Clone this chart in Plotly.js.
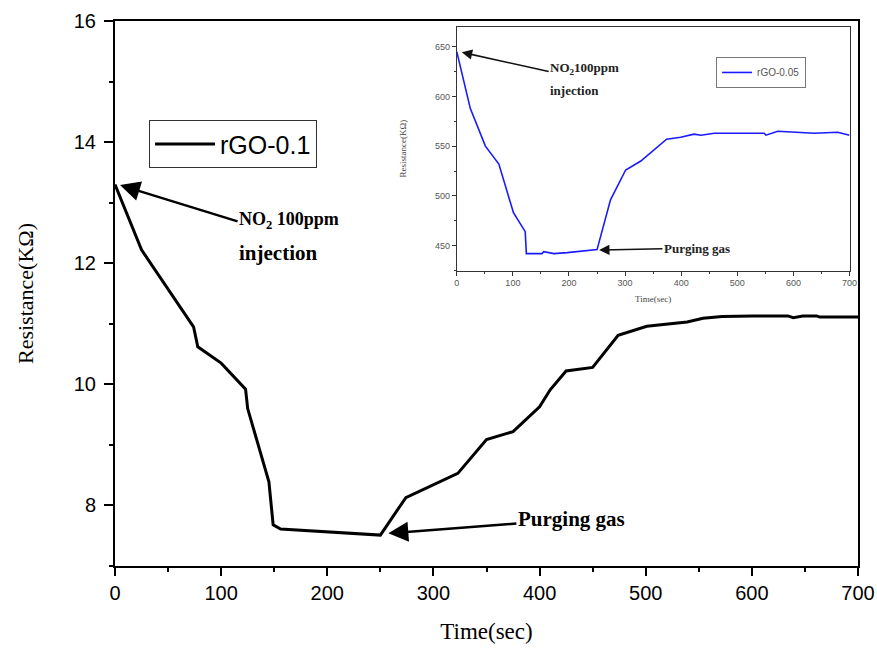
<!DOCTYPE html>
<html>
<head>
<meta charset="utf-8">
<script src="https://cdn.plot.ly/plotly-3.0.1.min.js"></script>
<style>html,body{margin:0;padding:0;background:#fff;}#chart{width:877px;height:649px;}</style>
</head>
<body>
<div id="chart"></div>
<script>
// Main series: rGO-0.1
var timeMain = [0,25,74,78,100,123,125,145,149,156,250,274,323,350,375,400,410,425,450,474,501,526,539,554,572,601,634,639,648,661,664,700];
var resMain = [13.3,12.22,10.95,10.62,10.35,9.92,9.60,8.39,7.68,7.61,7.51,8.13,8.53,9.09,9.22,9.63,9.91,10.22,10.28,10.81,10.96,11.01,11.03,11.09,11.12,11.13,11.13,11.10,11.13,11.13,11.11,11.11];
// Inset series: rGO-0.05
var timeInset = [0,24,51,75,101,122,124,152,155,173,197,232,250,274,301,328,349,374,399,423,435,459,548,551,572,614,637,679,700];
var resInset = [645,588,550,532,483,464,442,442,444,442,443,445,446,496,526,535,545,557,559,562,561,563,563,561,565,564,563,564,561];
var nameMain = 'rGO-0.1';
var nameInset = 'rGO-0.05';
var xTicksMain = [0,100,200,300,400,500,600,700];
var yTicksMain = [8,10,12,14,16];
var yTicksInset = [450,500,550,600,650];

var serif = 'Liberation Serif, Times New Roman, serif';
var sans = 'Liberation Sans, Arial, sans-serif';

var traces = [
  {x: timeMain, y: resMain, type: 'scatter', mode: 'lines', name: nameMain,
   line: {color: '#000', width: 3}, xaxis: 'x', yaxis: 'y', legend: 'legend'},
  {x: timeInset, y: resInset, type: 'scatter', mode: 'lines', name: nameInset,
   line: {color: '#1a1aff', width: 1.6}, xaxis: 'x2', yaxis: 'y2', legend: 'legend2'}
];

var layout = {
  width: 877, height: 649,
  margin: {l: 115, r: 19, t: 21, b: 83},
  paper_bgcolor: '#fff', plot_bgcolor: '#fff',
  showlegend: true,
  xaxis: {
    domain: [0, 1], range: [0, 700], tickvals: xTicksMain,
    showline: true, mirror: true, linecolor: '#000', linewidth: 2,
    ticks: 'outside', ticklen: 8, tickwidth: 2, tickcolor: '#000',
    minor: {ticks: 'outside', ticklen: 4, tickwidth: 2, dtick: 50, tickcolor: '#000'},
    showgrid: false, zeroline: false,
    tickfont: {family: sans, size: 20, color: '#000'},
    title: {text: 'Time(sec)', font: {family: serif, size: 23, color: '#000'}, standoff: 20}
  },
  yaxis: {
    domain: [0, 1], range: [7, 16], tickvals: yTicksMain,
    showline: true, mirror: true, linecolor: '#000', linewidth: 2,
    ticks: 'outside', ticklen: 9, tickwidth: 2, tickcolor: '#000',
    minor: {ticks: 'outside', ticklen: 4, tickwidth: 2, dtick: 1, tickcolor: '#000'},
    showgrid: false, zeroline: false, ticklabelstandoff: 4,
    tickfont: {family: sans, size: 20, color: '#000'},
    title: {text: 'Resistance(KΩ)', font: {family: serif, size: 22, color: '#000'}, standoff: 34}
  },
  xaxis2: {
    domain: [0.460, 0.9886], anchor: 'y2', range: [0, 700], dtick: 100,
    showline: true, mirror: true, linecolor: '#333', linewidth: 1,
    ticks: 'outside', ticklen: 4, tickwidth: 1, tickcolor: '#333',
    minor: {ticks: 'outside', ticklen: 2, tickwidth: 1, dtick: 50, tickcolor: '#333'},
    showgrid: false, zeroline: false,
    tickfont: {family: sans, size: 9, color: '#555'},
    title: {text: 'Time(sec)', font: {family: serif, size: 9, color: '#444'}, standoff: 8}
  },
  yaxis2: {
    domain: [0.5422, 0.9895], anchor: 'x2', range: [425, 670], tickvals: yTicksInset,
    showline: true, mirror: true, linecolor: '#333', linewidth: 1,
    ticks: 'outside', ticklen: 4, tickwidth: 1, tickcolor: '#333',
    minor: {ticks: 'outside', ticklen: 2, tickwidth: 1, dtick: 25, tickcolor: '#333'},
    showgrid: false, zeroline: false,
    tickfont: {family: sans, size: 9, color: '#555'},
    title: {text: 'Resistance(KΩ)', font: {family: serif, size: 9, color: '#444'}, standoff: 26}
  },
  legend: {
    x: 0.0458, y: 0.818, xanchor: 'left', yanchor: 'top',
    bgcolor: '#fff', bordercolor: '#333', borderwidth: 1,
    font: {family: sans, size: 25, color: '#000'},
    itemwidth: 60, tracegroupgap: 0
  },
  legend2: {
    x: 0.809, y: 0.934, xanchor: 'left', yanchor: 'top',
    bgcolor: '#fff', bordercolor: '#777', borderwidth: 1,
    font: {family: sans, size: 10, color: '#555'},
    itemwidth: 30, tracegroupgap: 0
  },
  annotations: [
    // main plot: text with arrows (arrow tip at the data point, text at the tail)
    {x: 4.7, y: 13.29, ax: 164, ay: 12.43, xref: 'x', yref: 'y', axref: 'x', ayref: 'y',
     showarrow: true, arrowhead: 2, arrowsize: 1.6, arrowwidth: 2.5, arrowcolor: '#000', standoff: 0,
     align: 'left',
     text: '<span style="font-size:18px"><b>NO<sub>2</sub> 100ppm</b></span><br><span style="font-size:21px"><b>injection</b></span>',
     font: {family: serif, size: 27, color: '#000'}},
    {x: 257.5, y: 7.54, ax: 430, ay: 7.77, xref: 'x', yref: 'y', axref: 'x', ayref: 'y',
     showarrow: true, arrowhead: 2, arrowsize: 1.6, arrowwidth: 2.5, arrowcolor: '#000', standoff: 0,
     text: '<b>Purging gas</b>', font: {family: serif, size: 21, color: '#000'}},
    // inset: text with arrows
    {x: 8.9, y: 644.3, ax: 228, ay: 617, xref: 'x2', yref: 'y2', axref: 'x2', ayref: 'y2',
     showarrow: true, arrowhead: 2, arrowsize: 1.3, arrowwidth: 1.6, arrowcolor: '#111', standoff: 0,
     align: 'left',
     text: '<span style="font-size:13px"><b>NO<sub>2</sub>100ppm</b></span><br><span style="font-size:13px"><b>injection</b></span>',
     font: {family: serif, size: 17.7, color: '#222'}},
    {x: 253.6, y: 445.5, ax: 428, ay: 447.5, xref: 'x2', yref: 'y2', axref: 'x2', ayref: 'y2',
     showarrow: true, arrowhead: 2, arrowsize: 1.3, arrowwidth: 1.6, arrowcolor: '#111', standoff: 0,
     text: '<b>Purging gas</b>', font: {family: serif, size: 13, color: '#222'}}
  ]
};

Plotly.newPlot('chart', traces, layout, {displayModeBar: false, staticPlot: true});
</script>
</body>
</html>
